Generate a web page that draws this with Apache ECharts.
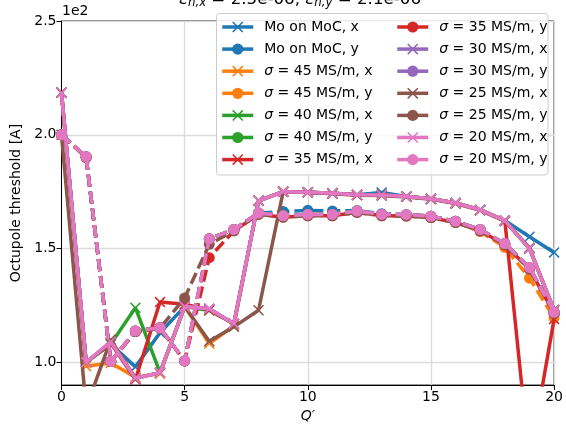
<!DOCTYPE html>
<html>
<head>
<meta charset="utf-8">
<script src="https://cdn.jsdelivr.net/npm/echarts@6/dist/echarts.min.js"></script>
<style>
  html, body { margin: 0; padding: 0; background: #fff; }
  #chart { width: 566px; height: 428px; }
</style>
</head>
<body>
<div id="chart"></div>
<script>
// Chromaticity Q' scan
const qPrime = [0, 1, 2, 3, 4, 5, 6, 7, 8, 9, 10, 11, 12, 13, 14, 15, 16, 17, 18, 19, 20];

// Octupole threshold [A] per configuration, x and y planes
const moX  = [218.5, 100, 108, 98, 113, 124.5, 123.5, 117, 171, 175, 174.8, 174.3, 173.6, 174.6, 172.9, 171.9, 170, 167, 162.3, 155.2, 148.3];
const moY  = [200, 190.3, 100.4, 113.8, 115.2, 100.6, 154.3, 158.4, 165.6, 166.3, 166.8, 166.5, 166.7, 165.3, 164.9, 164.2, 162, 158.4, 152.2, 141.7, 122];
const s45X = [218.5, 98.3, 99.7, 93.5, 95, 124.5, 108.3, 116, 171, 175, 174.8, 174.3, 173.6, 173.5, 172.9, 171.9, 170, 167, 162.3, 150, 123];
const s45Y = [200, 190.3, 100.4, 113.8, 115.2, 100.6, 154.3, 158.4, 165.6, 164.4, 165, 165, 166.5, 165, 164.9, 164.2, 162, 157.5, 150.5, 137, 119.5];
const s40X = [218.5, 100, 108, 124, 95.5, 124.5, 122.8, 117, 171, 175, 174.8, 174.3, 173.6, 173.5, 172.9, 171.9, 170, 167, 162.3, 150, 123];
const s40Y = [200, 190.3, 100.4, 113.8, 115.2, 100.6, 154.3, 158.4, 165.6, 164.4, 165, 165, 166.5, 165, 164.9, 164.2, 162, 158.4, 152.2, 141.7, 122];
const s35X = [218.5, 100, 108.5, 92.5, 126.5, 125.5, 123, 117, 171, 175, 174.8, 174.3, 173.6, 173.5, 172.9, 171.9, 170, 167, 162.3, 57, 119];
const s35Y = [200, 190, 100.4, 113.5, 115, 100.6, 146, 157.8, 165, 163.8, 164.4, 164.4, 165.9, 164.4, 164.3, 163.6, 161.4, 157.8, 151.6, 141, 121.5];
const s30X = [218.5, 100, 109, 93, 95.5, 124.5, 123.5, 117, 171, 175, 174.8, 174.3, 173.6, 173.5, 172.9, 171.9, 170, 167, 162.3, 150, 123];
const s30Y = [200, 190.3, 100.4, 113.8, 115.2, 100.6, 154.3, 158.4, 165.6, 164.4, 165, 165, 166.5, 165, 164.9, 164.2, 162, 158.4, 152.2, 141.7, 122];
const s25X = [200, 80, 110, 93, 95.5, 124.5, 109.3, 115.6, 122.9, 175, 174.6, 174.1, 173.4, 173.3, 172.7, 171.7, 169.8, 166.8, 162, 150.4, 122.5];
const s25Y = [200, 190, 100.4, 113.5, 115, 128.3, 151.9, 157.8, 165, 163.8, 164.4, 164.4, 165.9, 164.4, 164.3, 163.6, 161.4, 157.8, 151.6, 141, 121.5];
const s20X = [218.5, 100, 109, 93, 95.5, 124.5, 123.5, 117, 171, 175, 174.8, 174.3, 173.6, 173.5, 172.9, 171.9, 170, 167, 162.3, 150, 123];
const s20Y = [200, 190.3, 100.4, 113.8, 115.2, 100.6, 154.3, 158.4, 165.6, 164.4, 165, 165, 166.5, 165, 164.9, 164.2, 162, 158.4, 152.2, 141.7, 122];

const seriesNames = [
  'Mo on MoC, x', 'Mo on MoC, y',
  'σ = 45 MS/m, x', 'σ = 45 MS/m, y',
  'σ = 40 MS/m, x', 'σ = 40 MS/m, y',
  'σ = 35 MS/m, x', 'σ = 35 MS/m, y',
  'σ = 30 MS/m, x', 'σ = 30 MS/m, y',
  'σ = 25 MS/m, x', 'σ = 25 MS/m, y',
  'σ = 20 MS/m, x', 'σ = 20 MS/m, y'
];
const seriesValues = [moX, moY, s45X, s45Y, s40X, s40Y, s35X, s35Y, s30X, s30Y, s25X, s25Y, s20X, s20Y];

const yTicks = [100, 150, 200, 250];
const xTicks = [0, 5, 10, 15, 20];

const palette = ['#1f77b4', '#ff7f0e', '#2ca02c', '#d62728', '#9467bd', '#8c564b', '#e377c2'];
const CROSS = 'path://M0,1L1,0L10,9L9,10ZM9,0L10,1L1,10L0,9Z';
const FONT = '"DejaVu Sans", sans-serif';

const series = seriesNames.map((name, i) => {
  const color = palette[Math.floor(i / 2)];
  const isY = i % 2 === 1;
  return {
    name: name,
    type: 'line',
    z: 2 + i,
    data: qPrime.map((q, k) => [q, seriesValues[i][k]]),
    symbol: isY ? 'circle' : CROSS,
    symbolSize: isY ? 11 : 11,
    showSymbol: true,
    clip: true,
    color: color,
    itemStyle: { color: color, borderWidth: 0 },
    lineStyle: { color: color, width: 3.5, type: isY ? [12, 5] : 'solid', cap: 'butt' },
    emphasis: { disabled: true },
    animation: false
  };
});

function legendCfg(names, left) {
  return {
    data: names,
    orient: 'vertical',
    left: left,
    top: 20,
    padding: 0,
    itemWidth: 31,
    itemHeight: 14,
    itemGap: 8.1,
    z: 50,
    selectedMode: false,
    lineStyle: { type: 'solid', width: 3.5 },
    textStyle: {
      fontFamily: FONT, fontSize: 14, color: '#000', lineHeight: 14,
      padding: [0, 0, 0, 6],
      rich: { i: { fontFamily: FONT, fontSize: 14, fontStyle: 'italic', color: '#000', lineHeight: 14 } }
    },
    formatter: (n) => n.replace('σ', '{i|σ}')
  };
}

const chart = echarts.init(document.getElementById('chart'), null, { renderer: 'canvas' });
chart.setOption({
  backgroundColor: '#fff',
  animation: false,
  grid: { left: 61.5, top: 21, width: 493.5, height: 368, show: true, borderColor: '#000', borderWidth: 1, containLabel: false },
  xAxis: {
    type: 'value', min: 0, max: 20, interval: 5,
    name: 'Q′', nameLocation: 'middle', nameGap: 21,
    nameTextStyle: { fontFamily: FONT, fontSize: 14, fontStyle: 'italic', color: '#000' },
    axisLine: { show: true, lineStyle: { color: '#000', width: 1 } },
    axisTick: { show: true, length: 5, inside: false, lineStyle: { color: '#000', width: 1 } },
    axisLabel: { fontFamily: FONT, fontSize: 14, color: '#000', margin: 5, customValues: xTicks },
    splitLine: { show: true, lineStyle: { color: '#dcdcdc', width: 1.4 } }
  },
  yAxis: {
    type: 'value', min: 90, max: 250, splitNumber: 3,
    name: 'Octupole threshold [A]', nameLocation: 'middle', nameGap: 38,
    nameTextStyle: { fontFamily: FONT, fontSize: 14, color: '#000' },
    axisLine: { show: true, lineStyle: { color: '#000', width: 1 } },
    axisTick: { show: true, length: 5, inside: false, customValues: yTicks, lineStyle: { color: '#000', width: 1 } },
    axisLabel: { fontFamily: FONT, fontSize: 14, color: '#000', margin: 5, customValues: yTicks,
                 formatter: (v) => (v / 100).toFixed(1) },
    splitLine: { show: true, lineStyle: { color: '#dcdcdc', width: 1.4 } }
  },
  legend: [legendCfg(seriesNames.slice(0, 7), 220.5), legendCfg(seriesNames.slice(7), 395.5)],
  graphic: [
    {
      type: 'rect', z: 40, silent: true,
      shape: { x: 216.5, y: 13.5, width: 331.5, height: 161.5, r: 3 },
      style: { fill: 'rgba(255,255,255,0.8)', stroke: '#cccccc', lineWidth: 1 }
    },
    {
      type: 'text', z: 40, silent: true, x: 62, y: 18,
      style: { text: '1e2', font: '14px "DejaVu Sans", sans-serif', fill: '#000', verticalAlign: 'bottom' }
    },
    {
      type: 'text', z: 40, silent: true, x: 300, y: 9,
      style: {
        text: '{e|ε}{s|n,x}{t| = 2.5e-06, }{e|ε}{s|n,y}{t| = 2.1e-06}',
        align: 'center', verticalAlign: 'bottom',
        rich: {
          e: { fontFamily: FONT, fontSize: 16.7, fontStyle: 'italic', fill: '#000' },
          s: { fontFamily: FONT, fontSize: 11.7, fontStyle: 'italic', fill: '#000', padding: [6, 0, 0, 0] },
          t: { fontFamily: FONT, fontSize: 16.7, fill: '#000' }
        }
      }
    }
  ],
  series: series
});
</script>
</body>
</html>
